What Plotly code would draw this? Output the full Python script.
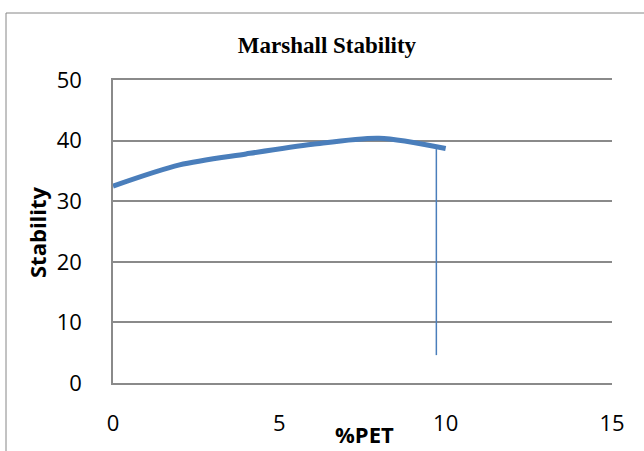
import plotly.graph_objects as go

pet = [0, 2, 4, 6, 8, 10]
stability = [32.5, 36.0, 37.8, 39.4, 40.4, 38.7]

marker_x = [9.72, 9.72]
marker_y = [4.6, 38.6]

x_ticks = [0, 5, 10, 15]
y_ticks = [0, 10, 20, 30, 40, 50]

W, H = 644, 451
L, R, T, B = 113, 32, 80, 68
pw, ph = W - L - R, H - T - B

def px(xpix):
    return (xpix - L) / pw

def py(ypix):
    return (H - B - ypix) / ph

GRID = "#8a8a8a"
TICKFONT = dict(family="Open Sans", size=22, color="black")

fig = go.Figure()
fig.add_trace(go.Scatter(x=pet, y=stability, mode="lines",
                         line=dict(color="#4a7ebb", width=5, shape="spline", smoothing=0.8),
                         showlegend=False, hoverinfo="skip"))
fig.add_trace(go.Scatter(x=marker_x, y=marker_y, mode="lines",
                         line=dict(color="#4a7ebb", width=1.5),
                         showlegend=False, hoverinfo="skip"))

fig.update_layout(
    width=W, height=H,
    margin=dict(l=L, r=R, t=T, b=B),
    paper_bgcolor="white", plot_bgcolor="white",
    title=dict(text="<b>Marshall Stability</b>", x=px(327), xref="paper", xanchor="center",
               y=1 - 45 / H, yref="container", yanchor="middle",
               font=dict(family="Liberation Serif", size=23, color="black")),
    xaxis=dict(range=[0, 15], tickvals=x_ticks, showgrid=False, zeroline=False,
               showline=True, mirror=True, linecolor=GRID, linewidth=1.5,
               ticks="", ticklabelstandoff=20, tickfont=TICKFONT),
    yaxis=dict(range=[0, 50], tickvals=y_ticks, showgrid=True, gridcolor=GRID,
               gridwidth=1.5, zeroline=False, showline=True, linecolor=GRID, linewidth=1.5,
               ticks="", ticklabelstandoff=25, tickfont=TICKFONT),
    annotations=[
        dict(text="<b>Stability</b>", xref="paper", yref="paper", x=px(37), y=py(232),
             xanchor="center", yanchor="middle", textangle=-90, showarrow=False,
             font=dict(family="Open Sans", size=22, color="black")),
        dict(text="<b>%PET</b>", xref="paper", yref="paper", x=px(364), y=py(434),
             xanchor="center", yanchor="middle", showarrow=False,
             font=dict(family="Open Sans", size=22, color="black")),
    ],
    shapes=[
        dict(type="rect", xref="paper", yref="paper", x0=px(6), x1=px(660), y0=py(470), y1=py(13),
             line=dict(color="#868686", width=1), layer="below"),
    ],
)

fig.write_html("out.html")
